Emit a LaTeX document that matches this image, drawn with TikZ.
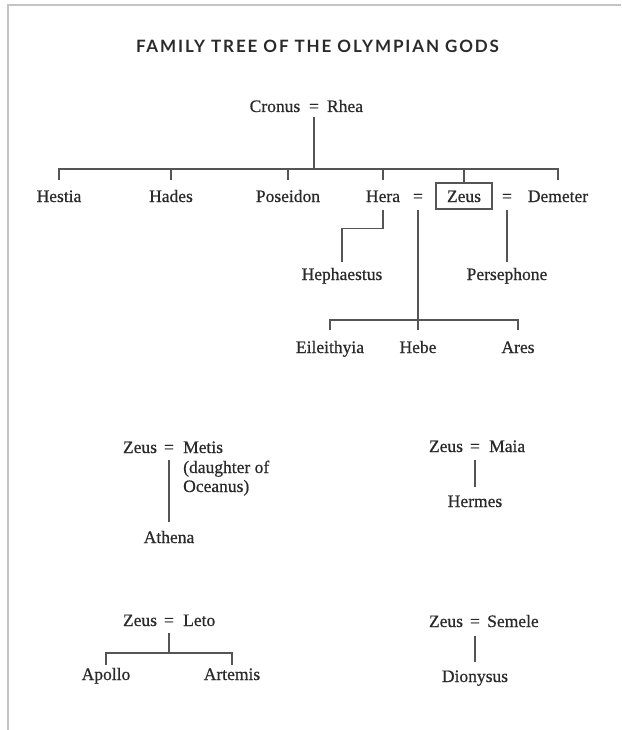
\documentclass[tikz,border=0pt]{standalone}
\usepackage{fontspec}
\setmainfont{Liberation Serif}[FakeBold=0.6]
\newfontfamily\titlefont{Lato}[LetterSpace=11]
\definecolor{ink}{HTML}{2A2A2A}
\definecolor{linec}{HTML}{555555}
\definecolor{framec}{HTML}{C4C4C4}
\begin{document}
\begin{tikzpicture}[x=1pt,y=-1pt,
  person/.style={font=\fontsize{17.5}{19.5}\selectfont, text=ink, inner sep=0pt,
    text height=12pt, text depth=3pt, anchor=base},
  zeusbox/.style={person, draw=linec, line width=1.3pt, text depth=0pt,
    inner xsep=11pt, inner ysep=7pt},
  link/.style={draw=linec, line width=1.3pt},
  titlestyle/.style={font=\titlefont\fontsize{17}{20}\selectfont\bfseries, text=ink, inner sep=0pt, anchor=base}]
\useasboundingbox (0,0) rectangle (621,730);
\fill[white] (0,0) rectangle (621,730);
% page frame
\draw[framec, line width=2pt] (7.5,730) -- (7.5,5.5) -- (621,5.5);

% title
\node[titlestyle] (title) at (317.5,53) {FAMILY TREE OF THE OLYMPIAN GODS};

% Cronus = Rhea
\node[person] (cronus) at (275,112) {Cronus};
\node[person] (crEq) at (314,112) {=};
\node[person] (rhea) at (345,112) {Rhea};

% children
\node[person] (hestia) at (59,202) {Hestia};
\node[person] (hades) at (171,202) {Hades};
\node[person] (poseidon) at (288,202) {Poseidon};
\node[person] (hera) at (383,202) {Hera};
\node[person] (eqA) at (418,202) {=};
\node[zeusbox] (zeus) at (464,202) {Zeus};
\node[person] (eqB) at (507,202) {=};
\node[person] (demeter) at (558,202) {Demeter};

\node[person] (heph) at (342,280) {Hephaestus};
\node[person] (perse) at (507,280) {Persephone};

\node[person] (eil) at (330,353) {Eileithyia};
\node[person] (hebe) at (418,353) {Hebe};
\node[person] (ares) at (518,353) {Ares};

% Zeus = Metis
\node[person] (zMetis) at (140,453) {Zeus};
\node[person] (eqMetis) at (169,453) {=};
\node[person, anchor=base west] (metis) at (183,453) {Metis};
\node[person, anchor=base west] (metisNoteA) at (183,473) {(daughter of};
\node[person, anchor=base west] (metisNoteB) at (183,492) {Oceanus)};
\node[person] (athena) at (169,543) {Athena};

% Zeus = Maia
\node[person] (zMaia) at (446,452) {Zeus};
\node[person] (eqMaia) at (475,452) {=};
\node[person, anchor=base west] (maia) at (489,452) {Maia};
\node[person] (hermes) at (475,507) {Hermes};

% Zeus = Leto
\node[person] (zLeto) at (140,626) {Zeus};
\node[person] (eqLeto) at (169,626) {=};
\node[person, anchor=base west] (leto) at (183,626) {Leto};
\node[person] (apollo) at (106,680) {Apollo};
\node[person] (artemis) at (232,680) {Artemis};

% Zeus = Semele
\node[person] (zSemele) at (446,627) {Zeus};
\node[person] (eqSemele) at (475,627) {=};
\node[person, anchor=base west] (semele) at (487,627) {Semele};
\node[person] (dionysus) at (475,682) {Dionysus};

% connectors: Cronus = Rhea
\coordinate (barA) at (314,169);
\draw[link, shorten <=2pt] (crEq.south) -- (barA);
\draw[link, shorten >=10pt] (barA) -| (hestia.north);
\draw[link, shorten >=10pt] (barA) -| (hades.north);
\draw[link, shorten >=10pt] (barA) -| (poseidon.north);
\draw[link, shorten >=10pt] (barA) -| (hera.north);
\draw[link] (barA) -| (zeus.north);
\draw[link, shorten >=10pt] (barA) -| (demeter.north);

% Hera -> Hephaestus
\draw[link, shorten <=5pt, shorten >=6pt] (hera.south) -- ++(0,23) -| (heph.north);
% Hera = Zeus
\coordinate (barB) at (418,320);
\draw[link, shorten <=5pt] (eqA.south) -- (barB);
\draw[link, shorten >=11pt] (barB) -| (eil.north);
\draw[link, shorten >=11pt] (barB) -- (hebe.north);
\draw[link, shorten >=11pt] (barB) -| (ares.north);
% Zeus = Demeter
\draw[link, shorten <=5pt, shorten >=6pt] (eqB.south) -- (perse.north);

% bottom groups
\draw[link, shorten <=4pt, shorten >=9pt] (eqMetis.south) -- (athena.north);
\draw[link, shorten <=5pt, shorten >=8pt] (eqMaia.south) -- (hermes.north);
\coordinate (barC) at (169,653);
\draw[link, shorten <=4pt] (eqLeto.south) -- (barC);
\draw[link, shorten >=3pt] (barC) -| (apollo.north);
\draw[link, shorten >=3pt] (barC) -| (artemis.north);
\draw[link, shorten <=6pt, shorten >=8pt] (eqSemele.south) -- (dionysus.north);
\end{tikzpicture}
\end{document}
